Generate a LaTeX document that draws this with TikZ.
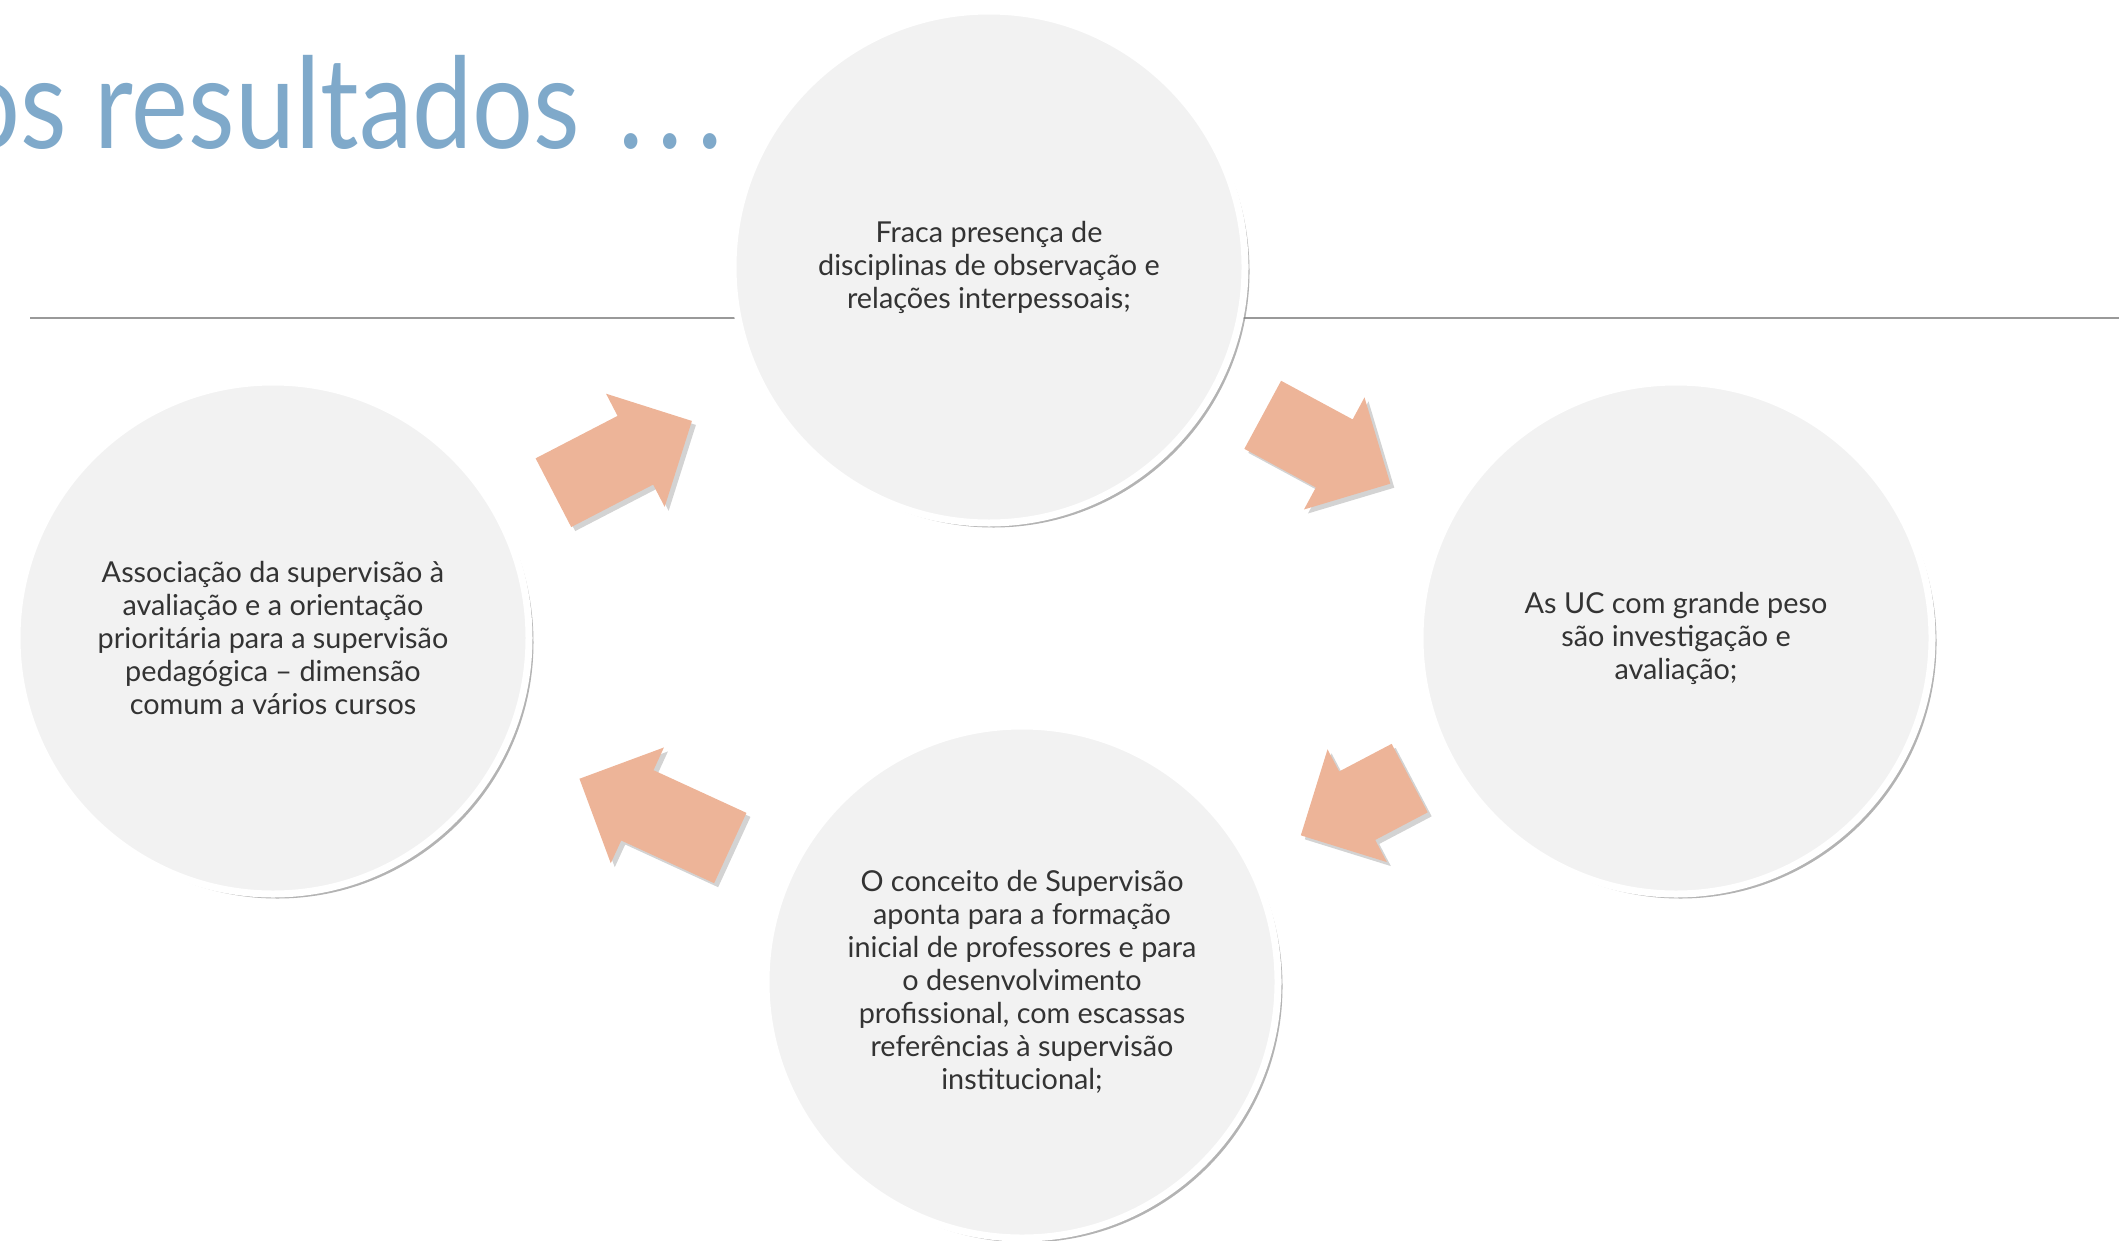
\documentclass[tikz,border=0pt]{standalone}
\usepackage{fontspec}
\setmainfont{Lato}
\newfontfamily\titlefont{Lato}[FakeStretch=0.85]
\usetikzlibrary{shapes.arrows,shadows}
\definecolor{titleblue}{RGB}{127,169,202}
\definecolor{peach}{RGB}{237,180,152}
\definecolor{bubblegray}{RGB}{242,242,242}
\tikzstyle{bubble}=[circle,draw=white,line width=0.07cm,fill=bubblegray,minimum size=5.12cm,align=center,text=black!80,font=\fontsize{8.2}{9.4}\selectfont,drop shadow={shadow xshift=0.045cm,shadow yshift=-0.045cm,opacity=0.6}]
\tikzstyle{blockarr}=[single arrow,fill=peach,draw=none,inner xsep=0pt,inner ysep=0.38cm,minimum width=1.26cm,single arrow head extend=0.25cm,sloped,allow upside down,drop shadow={shadow xshift=0.04cm,shadow yshift=-0.04cm,opacity=0.35}]

\begin{document}
\begin{tikzpicture}
\useasboundingbox (0,0) rectangle (21.19,12.40);
\clip (0,0) rectangle (21.19,12.40);
% title and rule
\node (T) [anchor=base east,text=titleblue,font=\titlefont\fontsize{36}{40}\selectfont,inner sep=0pt] at (7.23,10.91) {os resultados\hspace{0.38cm}.\hspace{0.14cm}.\hspace{0.14cm}.};
\coordinate (L1) at (0.30,9.22);
\coordinate (L2) at (21.19,9.22);
\draw [gray!80,line width=0.02cm] (L1) -- (L2);
% the four circles
\node (A) [bubble] at (9.89,9.73) {Fraca presença de\\disciplinas de observação e\\relações interpessoais;};
\node (B) [bubble] at (16.76,6.02) {As UC com grande peso\\são investigação e\\avaliação;};
\node (C) [bubble] at (10.22,2.58) {O conceito de Supervisão\\aponta para a formação\\inicial de professores e para\\o desenvolvimento\\profissional, com escassas\\referências à supervisão\\institucional;};
\node (D) [bubble] at (2.73,6.02) {Associação da supervisão à\\avaliação e a orientação\\prioritária para a supervisão\\pedagógica – dimensão\\comum a vários cursos};
% block arrows between them
\path (D) -- node [blockarr,pos=0.40,minimum height=1.56cm] (DA) {} (A);
\path (A) -- node [blockarr,pos=0.40,minimum height=1.45cm] (AB) {} (B);
\path (B) -- node [blockarr,pos=0.38,minimum height=1.23cm] (BC) {} (C);
\path (C) -- node [blockarr,pos=0.41,minimum height=1.66cm] (CD) {} (D);
\end{tikzpicture}
\end{document}
